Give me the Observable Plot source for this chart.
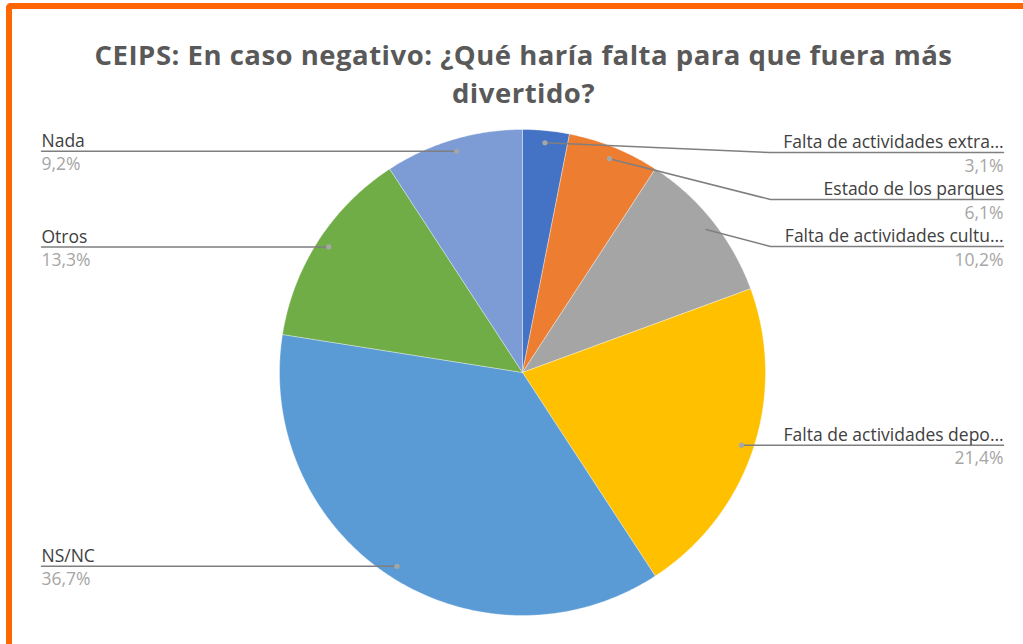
<!DOCTYPE html>
<html>
<head>
<meta charset="utf-8">
<script src="https://cdn.jsdelivr.net/npm/d3@7"></script>
<script src="https://cdn.jsdelivr.net/npm/@observablehq/plot@0.6"></script>
<style>
  html, body { margin: 0; padding: 0; background: #fff; }
  #page { position: relative; width: 1023px; height: 644px; overflow: hidden; font-family: "Open Sans", sans-serif; }
  #frame { position: absolute; left: 6px; top: 3px; width: 1030px; height: 660px;
           border-top: 6px solid #FF6600; border-left: 6px solid #FF6600; border-top-left-radius: 5px; }
  #title { position: absolute; left: 12px; top: 36px; width: 1023px; text-align: center;
           font-size: 27.5px; line-height: 37.5px; font-weight: 700; color: #595959; letter-spacing: 0.5px; }
  #chart { position: absolute; left: 0; top: 110px; }
</style>
</head>
<body>
<div id="page">
  <div id="frame"></div>
  <div id="title">CEIPS: En caso negativo: ¿Qué haría falta para que fuera más<br>divertido?</div>
  <div id="chart"></div>
</div>
<script>
// ---- data ----
const categories = [
  "Falta de actividades extra…",
  "Estado de los parques",
  "Falta de actividades cultu…",
  "Falta de actividades depo…",
  "NS/NC",
  "Otros",
  "Nada"
];
const values = [3.1, 6.1, 10.2, 21.4, 36.7, 13.3, 9.2];
const percentLabels = ["3,1%", "6,1%", "10,2%", "21,4%", "36,7%", "13,3%", "9,2%"];
const colors = ["#4472C4", "#ED7D31", "#A5A5A5", "#FFC000", "#5B9BD5", "#70AD47", "#7D9CD5"];

// ---- layout (page pixels) ----
const W = 1023, H = 534, TOP = 110;
const CX = 522, CY = 372, R = 243;
const rightEdge = 1003, leftEdge = 41;
const minGap = 47, minLineY = 152;
const FS = 17.5;
const invX = px => (px - CX) / R;
const invY = py => (CY - py) / R;

// ---- pie geometry from values ----
const pie = d3.pie().sort(null).value(d => d.value)
  .startAngle(0).endAngle(2 * Math.PI);
const arcs = pie(categories.map((c, i) => ({name: c, value: values[i], pct: percentLabels[i]})));

const slicePts = [];
for (const a of arcs) {
  slicePts.push({name: a.data.name, x: 0, y: 0});
  const steps = Math.max(2, Math.ceil((a.endAngle - a.startAngle) / 0.01));
  for (let k = 0; k <= steps; k++) {
    const t = a.startAngle + (a.endAngle - a.startAngle) * k / steps;
    slicePts.push({name: a.data.name, x: Math.sin(t), y: Math.cos(t)});
  }
  slicePts.push({name: a.data.name, x: 0, y: 0});
}

// ---- labels ----
const labels = arcs.map(a => {
  const m = (a.startAngle + a.endAngle) / 2;
  const dx = Math.sin(m) * 0.95, dy = Math.cos(m) * 0.95;
  return {name: a.data.name, pct: a.data.pct, dx, dy, side: dx >= 0 ? "right" : "left",
          dotPy: CY - dy * R};
});
for (const side of ["right", "left"]) {
  const group = labels.filter(l => l.side === side).sort((a, b) => a.dotPy - b.dotPy);
  let prev = -Infinity;
  for (const l of group) {
    let ly = Math.max(l.dotPy, minLineY, prev + minGap);
    if (Math.abs(ly - l.dotPy) < 2) ly = l.dotPy;
    l.linePy = ly;
    prev = ly;
  }
}
const leaderPts = [];
for (const l of labels) {
  const endPx = l.side === "right" ? rightEdge : leftEdge;
  const elbowPx = l.side === "right" ? CX + R + 5 : CX - R - 5;
  leaderPts.push({name: l.name, x: l.dx, y: l.dy});
  if (Math.abs(l.linePy - l.dotPy) > 2) leaderPts.push({name: l.name, x: invX(elbowPx), y: invY(l.linePy)});
  leaderPts.push({name: l.name, x: invX(endPx), y: invY(l.linePy)});
}
const textRows = labels.map(l => ({
  name: l.name, pct: l.pct,
  x: invX(l.side === "right" ? rightEdge : leftEdge),
  y: invY(l.linePy),
  anchor: l.side === "right" ? "end" : "start"
}));
const rightRows = textRows.filter(d => d.anchor === "end");
const leftRows = textRows.filter(d => d.anchor === "start");

const plot = Plot.plot({
  width: W, height: H,
  margin: 0,
  x: {domain: [-1, 1], range: [CX - R, CX + R], axis: null},
  y: {domain: [-1, 1], range: [CY - TOP + R, CY - TOP - R], axis: null},
  color: {domain: categories, range: colors},
  style: {fontFamily: "'Open Sans', sans-serif", background: "transparent", overflow: "visible"},
  marks: [
    Plot.line(slicePts, {x: "x", y: "y", z: "name", fill: "name", stroke: "white", strokeWidth: 0.35}),
    Plot.line(leaderPts, {x: "x", y: "y", z: "name", stroke: "#7F7F7F", strokeWidth: 1.5}),
    Plot.dot(labels, {x: "dx", y: "dy", r: 2.6, fill: "#A6A6A6", stroke: "none"}),
    Plot.text(rightRows, {x: "x", y: "y", text: "name", textAnchor: "end", lineAnchor: "middle", dy: -10, fontSize: FS, fill: "#404040"}),
    Plot.text(leftRows, {x: "x", y: "y", text: "name", textAnchor: "start", lineAnchor: "middle", dy: -10, fontSize: FS, fill: "#404040"}),
    Plot.text(rightRows, {x: "x", y: "y", text: "pct", textAnchor: "end", lineAnchor: "middle", dy: 13.5, fontSize: FS, fill: "#A6A6A6"}),
    Plot.text(leftRows, {x: "x", y: "y", text: "pct", textAnchor: "start", lineAnchor: "middle", dy: 13.5, fontSize: FS, fill: "#A6A6A6"})
  ]
});
document.getElementById("chart").appendChild(plot);
</script>
</body>
</html>
